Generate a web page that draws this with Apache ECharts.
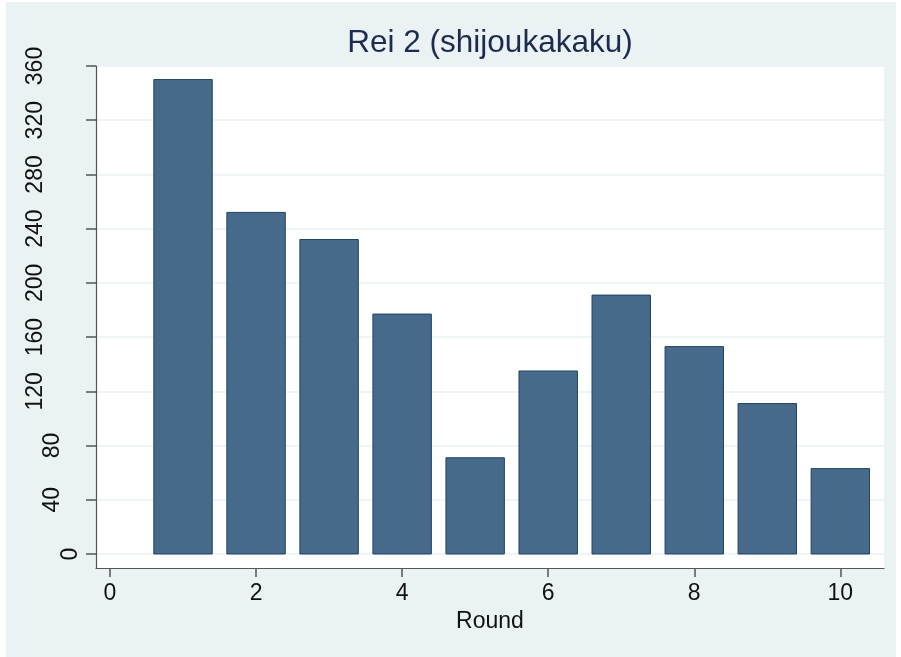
<!DOCTYPE html>
<html>
<head>
<meta charset="utf-8">
<script src="https://cdn.jsdelivr.net/npm/echarts@6/dist/echarts.min.js"></script>
<style>html,body{margin:0;padding:0;background:#fff;}#c{width:901px;height:657px;}</style>
</head>
<body>
<div id="c"></div>
<script>
const titleText = 'Rei 2 (shijoukakaku)';
const xName = 'Round';
const rounds = [1, 2, 3, 4, 5, 6, 7, 8, 9, 10];
const values = [350, 252, 232, 177, 71, 135, 191, 153, 111, 63];
const yTicks = [0, 40, 80, 120, 160, 200, 240, 280, 320, 360];
const xTicks = [0, 2, 4, 6, 8, 10];
const barHalfWidth = 0.4;

const chart = echarts.init(document.getElementById('c'), null, {renderer: 'canvas'});
const font = '"Liberation Sans", Arial, sans-serif';
const axisColor = '#555555';

chart.setOption({
  backgroundColor: '#ffffff',
  animation: false,
  graphic: [{
    type: 'rect', z: -10, silent: true,
    shape: {x: 6, y: 2, width: 890, height: 655},
    style: {fill: '#eaf2f3'}
  }],
  title: {
    text: titleText,
    left: 490, top: 27, textAlign: 'center', padding: 0,
    textStyle: {fontFamily: font, fontSize: 31.5, fontWeight: 'normal', color: '#1c2b4f'}
  },
  grid: {
    left: 96, top: 66, right: 17, bottom: 89,
    show: true, backgroundColor: '#ffffff', borderWidth: 0
  },
  xAxis: {
    type: 'value',
    min: -0.1917, max: 10.598,
    name: xName, nameLocation: 'middle', nameGap: 39,
    nameTextStyle: {fontFamily: font, fontSize: 23, color: '#111'},
    axisLine: {show: true, onZero: false, lineStyle: {color: axisColor, width: 1.2}},
    axisTick: {show: true, length: 9, customValues: xTicks, lineStyle: {color: axisColor, width: 1.5}},
    axisLabel: {customValues: xTicks, margin: 14, fontFamily: font, fontSize: 23, color: '#111'},
    splitLine: {show: false}
  },
  yAxis: {
    type: 'value',
    min: -10.33, max: 360,
    axisLine: {show: true, onZero: false, lineStyle: {color: axisColor, width: 1.2}},
    axisTick: {show: true, length: 10, customValues: yTicks, lineStyle: {color: axisColor, width: 1.5}},
    axisLabel: {
      customValues: yTicks, rotate: 90, margin: 14,
      fontFamily: font, fontSize: 23, color: '#111',
      formatter: function (v) {
        const s = String(v);
        return '{r' + s.length + '|' + s + '}';
      },
      rich: {
        r1: {fontFamily: font, fontSize: 23, color: '#111', padding: [0, 0, 0, 0]},
        r2: {fontFamily: font, fontSize: 23, color: '#111', padding: [0, 0, 18, 0]},
        r3: {fontFamily: font, fontSize: 23, color: '#111', padding: [0, 0, 35, 0]}
      }
    },
    splitLine: {show: true, lineStyle: {color: '#eaf2f3', width: 1.5}}
  },
  series: [{
    type: 'custom',
    data: rounds.map((r, i) => [r, values[i]]),
    encode: {x: 0, y: 1},
    renderItem: function (params, api) {
      const x = api.value(0), v = api.value(1);
      const p1 = api.coord([x - barHalfWidth, v]);
      const p2 = api.coord([x + barHalfWidth, 0]);
      return {
        type: 'rect',
        shape: {x: p1[0], y: p1[1], width: p2[0] - p1[0], height: p2[1] - p1[1]},
        style: {fill: '#476a8b', stroke: '#1f4368', lineWidth: 1}
      };
    }
  }]
});
</script>
</body>
</html>
